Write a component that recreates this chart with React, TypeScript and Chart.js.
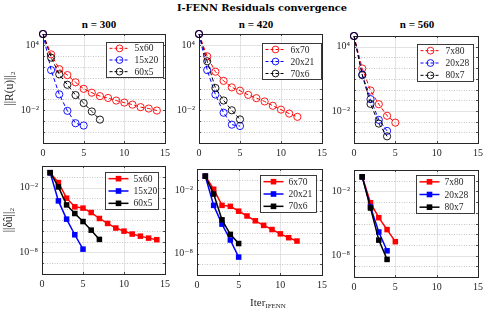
import React, { useEffect, useRef } from "react";
import Chart from "chart.js/auto";

// ---------------- text ----------------
const FIG_TITLE = "I-FENN Residuals convergence";
const X_LABEL = "Iter";
const X_LABEL_SUB = "IFENN";
const Y_LABEL_TOP = "||R(u)||₂";
const Y_LABEL_BOTTOM = "||δû||₂";

// ---------------- axes ----------------
const X_TICKS = [0, 5, 10, 15];
const TOP_Y_RANGE = [1e-5, 1e5];
const BOTTOM_Y_RANGE = [1e-10, 1];
const TOP_Y_TICKS = [1e4, 1e-2];
const BOTTOM_Y_TICKS = [1e-2, 1e-8];
const TICK_LABELS: Record<string, string> = { "4": "10⁴", "-2": "10⁻²", "-8": "10⁻⁸" };

// ---------------- categories ----------------
const N_TITLES = ["n = 300", "n = 420", "n = 560"];
const LABELS_300 = ["5x60", "15x20", "60x5"];
const LABELS_420 = ["6x70", "20x21", "70x6"];
const LABELS_560 = ["7x80", "20x28", "80x7"];

const TOP_START_ITER = 0;
const BOTTOM_START_ITER = 1;

// ---------------- residual ||R(u)||_2 ----------------
const RES_300_A = [1e5, 1350, 60, 17, 3.7, 0.93, 0.41, 0.2, 0.135, 0.078, 0.051, 0.033, 0.0195, 0.0145, 0.0095];
const RES_300_B = [1e5, 48, 0.29, 0.0089, 6.5e-4, 4.0e-4];
const RES_300_C = [1e5, 680, 20, 2.2, 0.25, 0.046, 0.0078, 0.0014];
const RES_420_A = [1e5, 890, 35, 5.0, 1.26, 0.63, 0.26, 0.13, 0.065, 0.026, 0.0115, 0.005, 0.0025];
const RES_420_B = [1e5, 49, 0.28, 0.006, 4.8e-4, 3.6e-4];
const RES_420_C = [1e5, 316, 1.12, 0.079, 0.01, 0.00145];
const RES_560_A = [1e5, 91, 0.81, 0.042, 3.5e-3, 8e-4];
const RES_560_B = [1e5, 25, 0.126, 1.45e-3, 1.35e-4];
const RES_560_C = [1e5, 22, 0.045, 6.5e-4, 4.2e-5];

// ---------------- increment ||du||_2 ----------------
const INC_300_A = [0.24, 0.029, 1.05e-3, 1.66e-4, 1.26e-4, 4.9e-5, 1.38e-5, 4.8e-6, 1.8e-6, 9.3e-7, 5.0e-7, 3.2e-7, 2.1e-7, 1.5e-7];
const INC_300_B = [0.24, 5.9e-4, 1.2e-5, 4.3e-7, 2.0e-8];
const INC_300_C = [0.24, 0.0115, 2.5e-4, 4.0e-5, 7.2e-6, 1.15e-6, 1.6e-7];
const INC_420_A = [0.21, 0.0123, 3.7e-4, 3.0e-4, 1.05e-4, 3.7e-5, 1.3e-5, 4.8e-6, 1.95e-6, 7.6e-7, 3.3e-7, 1.6e-7];
const INC_420_B = [0.21, 3.7e-4, 6.3e-6, 2.0e-7, 4.9e-9];
const INC_420_C = [0.21, 4.3e-3, 1.6e-5, 6.8e-7, 9.3e-8];
const INC_560_A = [0.23, 8.7e-4, 3.5e-5, 2.7e-6, 2.0e-7];
const INC_560_B = [0.23, 3.5e-4, 1.6e-6, 2.8e-8];
const INC_560_C = [0.23, 2.8e-4, 2.8e-7, 4.4e-9];

// ---------------- styling / layout ----------------
const COLORS = ["#ff0000", "#0000ff", "#000000"];
const SERIF = '"Liberation Serif", "DejaVu Serif", "Times New Roman", serif';
const WIDE_SERIF = '"DejaVu Serif", "Liberation Serif", serif';
const INK = "#262626";
const PADL = 43;
const PADT = 8;
const PADR = 8;
const PADB = 22;

type PanelDef = {
  row: number;
  col: number;
  frame: [number, number, number, number]; // left, top, right, bottom
  legend: [number, number, number, number]; // x, y, w, h (absolute)
  labels: string[];
  series: number[][];
};

const PANELS: PanelDef[] = [
  { row: 0, col: 0, frame: [43, 32, 166, 143], legend: [106, 40, 57, 35], labels: LABELS_300, series: [RES_300_A, RES_300_B, RES_300_C] },
  { row: 0, col: 1, frame: [199, 32, 323, 143], legend: [262, 41, 59, 36], labels: LABELS_420, series: [RES_420_A, RES_420_B, RES_420_C] },
  { row: 0, col: 2, frame: [354, 34, 479, 143], legend: [417, 42, 56, 37], labels: LABELS_560, series: [RES_560_A, RES_560_B, RES_560_C] },
  { row: 1, col: 0, frame: [42, 164, 166, 274], legend: [105, 170, 53, 37], labels: LABELS_300, series: [INC_300_A, INC_300_B, INC_300_C] },
  { row: 1, col: 1, frame: [197, 167, 323, 275], legend: [260, 173, 56, 37], labels: LABELS_420, series: [INC_420_A, INC_420_B, INC_420_C] },
  { row: 1, col: 2, frame: [354, 168, 479, 277], legend: [416, 173, 58, 38], labels: LABELS_560, series: [INC_560_A, INC_560_B, INC_560_C] },
];

function makeDeco(p: PanelDef) {
  const top = p.row === 0;
  const yTicks = top ? TOP_Y_TICKS : BOTTOM_Y_TICKS;
  return {
    id: "deco" + p.row + p.col,
    beforeDatasetsDraw(chart: any) {
      const { ctx, chartArea: a, scales } = chart;
      const xs = scales.x;
      const ys = scales.y;
      ctx.save();
      ctx.lineWidth = 0.8;
      ctx.strokeStyle = "#dcdcdc";
      for (const v of X_TICKS) {
        if (v <= xs.min || v >= xs.max) continue;
        const px = Math.round(xs.getPixelForValue(v)) + 0.5;
        ctx.beginPath();
        ctx.moveTo(px, a.top);
        ctx.lineTo(px, a.bottom);
        ctx.stroke();
      }
      const e0 = Math.round(Math.log10(ys.min));
      const e1 = Math.round(Math.log10(ys.max));
      for (let e = e0 + 1; e < e1; e++) {
        const labeled = yTicks.some((t) => Math.round(Math.log10(t)) === e);
        const py = Math.round(ys.getPixelForValue(Math.pow(10, e))) + 0.5;
        if (labeled) {
          ctx.setLineDash([]);
          ctx.strokeStyle = "#dcdcdc";
        } else {
          ctx.setLineDash([1, 1.5]);
          ctx.strokeStyle = "#b8b8b8";
        }
        ctx.beginPath();
        ctx.moveTo(a.left, py);
        ctx.lineTo(a.right, py);
        ctx.stroke();
        ctx.setLineDash([]);
        ctx.strokeStyle = INK;
        ctx.beginPath();
        ctx.moveTo(a.left, py);
        ctx.lineTo(a.left + 2, py);
        ctx.moveTo(a.right, py);
        ctx.lineTo(a.right - 2, py);
        ctx.stroke();
      }
      ctx.setLineDash([]);
      ctx.strokeStyle = INK;
      for (const v of X_TICKS) {
        const px = Math.round(xs.getPixelForValue(v)) + 0.5;
        ctx.beginPath();
        ctx.moveTo(px, a.bottom);
        ctx.lineTo(px, a.bottom - 2);
        ctx.moveTo(px, a.top);
        ctx.lineTo(px, a.top + 2);
        ctx.stroke();
      }
      ctx.lineWidth = 1;
      ctx.strokeRect(Math.round(a.left) + 0.5, Math.round(a.top) + 0.5, Math.round(a.right - a.left), Math.round(a.bottom - a.top));
      ctx.restore();
    },
    afterDatasetsDraw(chart: any) {
      const { ctx, chartArea: a } = chart;
      const [lx, ly, lw, lh] = p.legend;
      const bx = Math.round(a.left + (lx - p.frame[0])) + 0.5;
      const by = Math.round(a.top + (ly - p.frame[1])) + 0.5;
      ctx.save();
      ctx.fillStyle = "#ffffff";
      ctx.fillRect(bx, by, lw, lh);
      ctx.strokeStyle = INK;
      ctx.lineWidth = 0.9;
      ctx.strokeRect(bx, by, lw, lh);
      chart.data.datasets.forEach((ds: any, i: number) => {
        const cy = by + (lh * (2 * i + 1)) / 6;
        const color = ds.borderColor;
        ctx.strokeStyle = color;
        ctx.fillStyle = color;
        ctx.lineWidth = top ? 1 : 1.5;
        ctx.setLineDash(top ? [3, 2] : []);
        ctx.beginPath();
        ctx.moveTo(bx + 3, cy);
        ctx.lineTo(bx + 23, cy);
        ctx.stroke();
        ctx.setLineDash([]);
        if (top) {
          ctx.lineWidth = 0.9;
          ctx.beginPath();
          ctx.arc(bx + 13, cy, 3.4, 0, Math.PI * 2);
          ctx.stroke();
        } else {
          ctx.fillRect(bx + 13 - 2.8, cy - 2.8, 5.6, 5.6);
        }
        ctx.fillStyle = INK;
        ctx.font = "9.5px " + SERIF;
        ctx.textAlign = "left";
        ctx.textBaseline = "middle";
        ctx.fillText(ds.label, bx + 28, cy + 0.5);
      });
      ctx.restore();
    },
  };
}

function Panel({ p }: { p: PanelDef }) {
  const ref = useRef<HTMLCanvasElement>(null);
  const [fl, ft, fr, fb] = p.frame;
  const w = fr - fl + PADL + PADR;
  const h = fb - ft + PADT + PADB;
  useEffect(() => {
    const top = p.row === 0;
    const start = top ? TOP_START_ITER : BOTTOM_START_ITER;
    const yRange = top ? TOP_Y_RANGE : BOTTOM_Y_RANGE;
    const yTicks = top ? TOP_Y_TICKS : BOTTOM_Y_TICKS;
    const datasets = p.series.map((vals, i) => ({
      label: p.labels[i],
      data: vals.map((v, k) => ({ x: start + k, y: v })),
      borderColor: COLORS[i],
      backgroundColor: COLORS[i],
      borderWidth: top ? 1 : 1.5,
      borderDash: top ? [4, 2.5] : [],
      pointStyle: top ? "circle" : "rect",
      pointRadius: top ? 3.6 : 3.9,
      pointBorderWidth: top ? 0.9 : 0,
      pointBorderColor: COLORS[i],
      pointBackgroundColor: top ? "rgba(0,0,0,0)" : COLORS[i],
      tension: 0,
      clip: false as any,
      order: 3 - i,
    }));
    const font = { family: SERIF, size: 10 };
    const chart = new Chart(ref.current as HTMLCanvasElement, {
      type: "line",
      data: { datasets },
      plugins: [makeDeco(p)],
      options: {
        responsive: false,
        maintainAspectRatio: false,
        animation: false,
        layout: { padding: { top: PADT, right: PADR, left: 0, bottom: 0 } },
        plugins: { legend: { display: false }, tooltip: { enabled: false }, title: { display: false } },
        scales: {
          x: {
            type: "linear",
            min: 0,
            max: 15,
            afterBuildTicks: (s: any) => {
              s.ticks = X_TICKS.map((v) => ({ value: v }));
            },
            afterFit: (s: any) => {
              s.height = PADB;
            },
            grid: { display: false, drawTicks: false },
            border: { display: false },
            ticks: { font, color: INK, padding: 4, maxRotation: 0, autoSkip: false },
          },
          y: {
            type: "logarithmic",
            min: yRange[0],
            max: yRange[1],
            afterBuildTicks: (s: any) => {
              s.ticks = yTicks.map((v) => ({ value: v }));
            },
            afterFit: (s: any) => {
              s.width = PADL;
            },
            grid: { display: false, drawTicks: false },
            border: { display: false },
            ticks: {
              font,
              color: INK,
              padding: 4,
              autoSkip: false,
              callback: (v: any) => TICK_LABELS[String(Math.round(Math.log10(Number(v))))] ?? "",
            },
            title: {
              display: p.col === 0,
              text: top ? Y_LABEL_TOP : Y_LABEL_BOTTOM,
              font: { family: SERIF, size: 11.5 },
              color: INK,
              padding: { top: 3, bottom: 0 },
            },
          },
        },
      } as any,
    });
    return () => chart.destroy();
  }, []);
  return (
    <canvas
      ref={ref}
      width={w}
      height={h}
      style={{ position: "absolute", left: fl - PADL, top: ft - PADT, width: w, height: h }}
    />
  );
}

const N_TITLE_X = [99, 256, 417];

export default function App() {
  return (
    <div style={{ position: "absolute", left: 0, top: 0, width: 493, height: 309, background: "#fff", overflow: "hidden" }}>
      <div
        style={{
          position: "absolute", left: 262 - 150, top: 2, width: 300, textAlign: "center",
          fontFamily: WIDE_SERIF, fontWeight: "bold", fontSize: 9.8, lineHeight: "12px", color: "#000",
        }}
      >
        {FIG_TITLE}
      </div>
      {N_TITLES.map((t, i) => (
        <div
          key={t}
          style={{
            position: "absolute", left: N_TITLE_X[i] - 40, top: 18, width: 80, textAlign: "center",
            fontFamily: SERIF, fontWeight: "bold", fontSize: 11, lineHeight: "12px", color: "#000",
          }}
        >
          {t}
        </div>
      ))}
      {PANELS.map((p) => (
        <Panel key={p.row + "-" + p.col} p={p} />
      ))}
      <div
        style={{
          position: "absolute", left: 268 - 50, top: 296, width: 100, textAlign: "center",
          fontFamily: SERIF, fontSize: 11, lineHeight: "12px", color: INK, whiteSpace: "nowrap",
        }}
      >
        {X_LABEL}
        <span style={{ fontSize: 7, verticalAlign: "-2px" }}>{X_LABEL_SUB}</span>
      </div>
    </div>
  );
}
